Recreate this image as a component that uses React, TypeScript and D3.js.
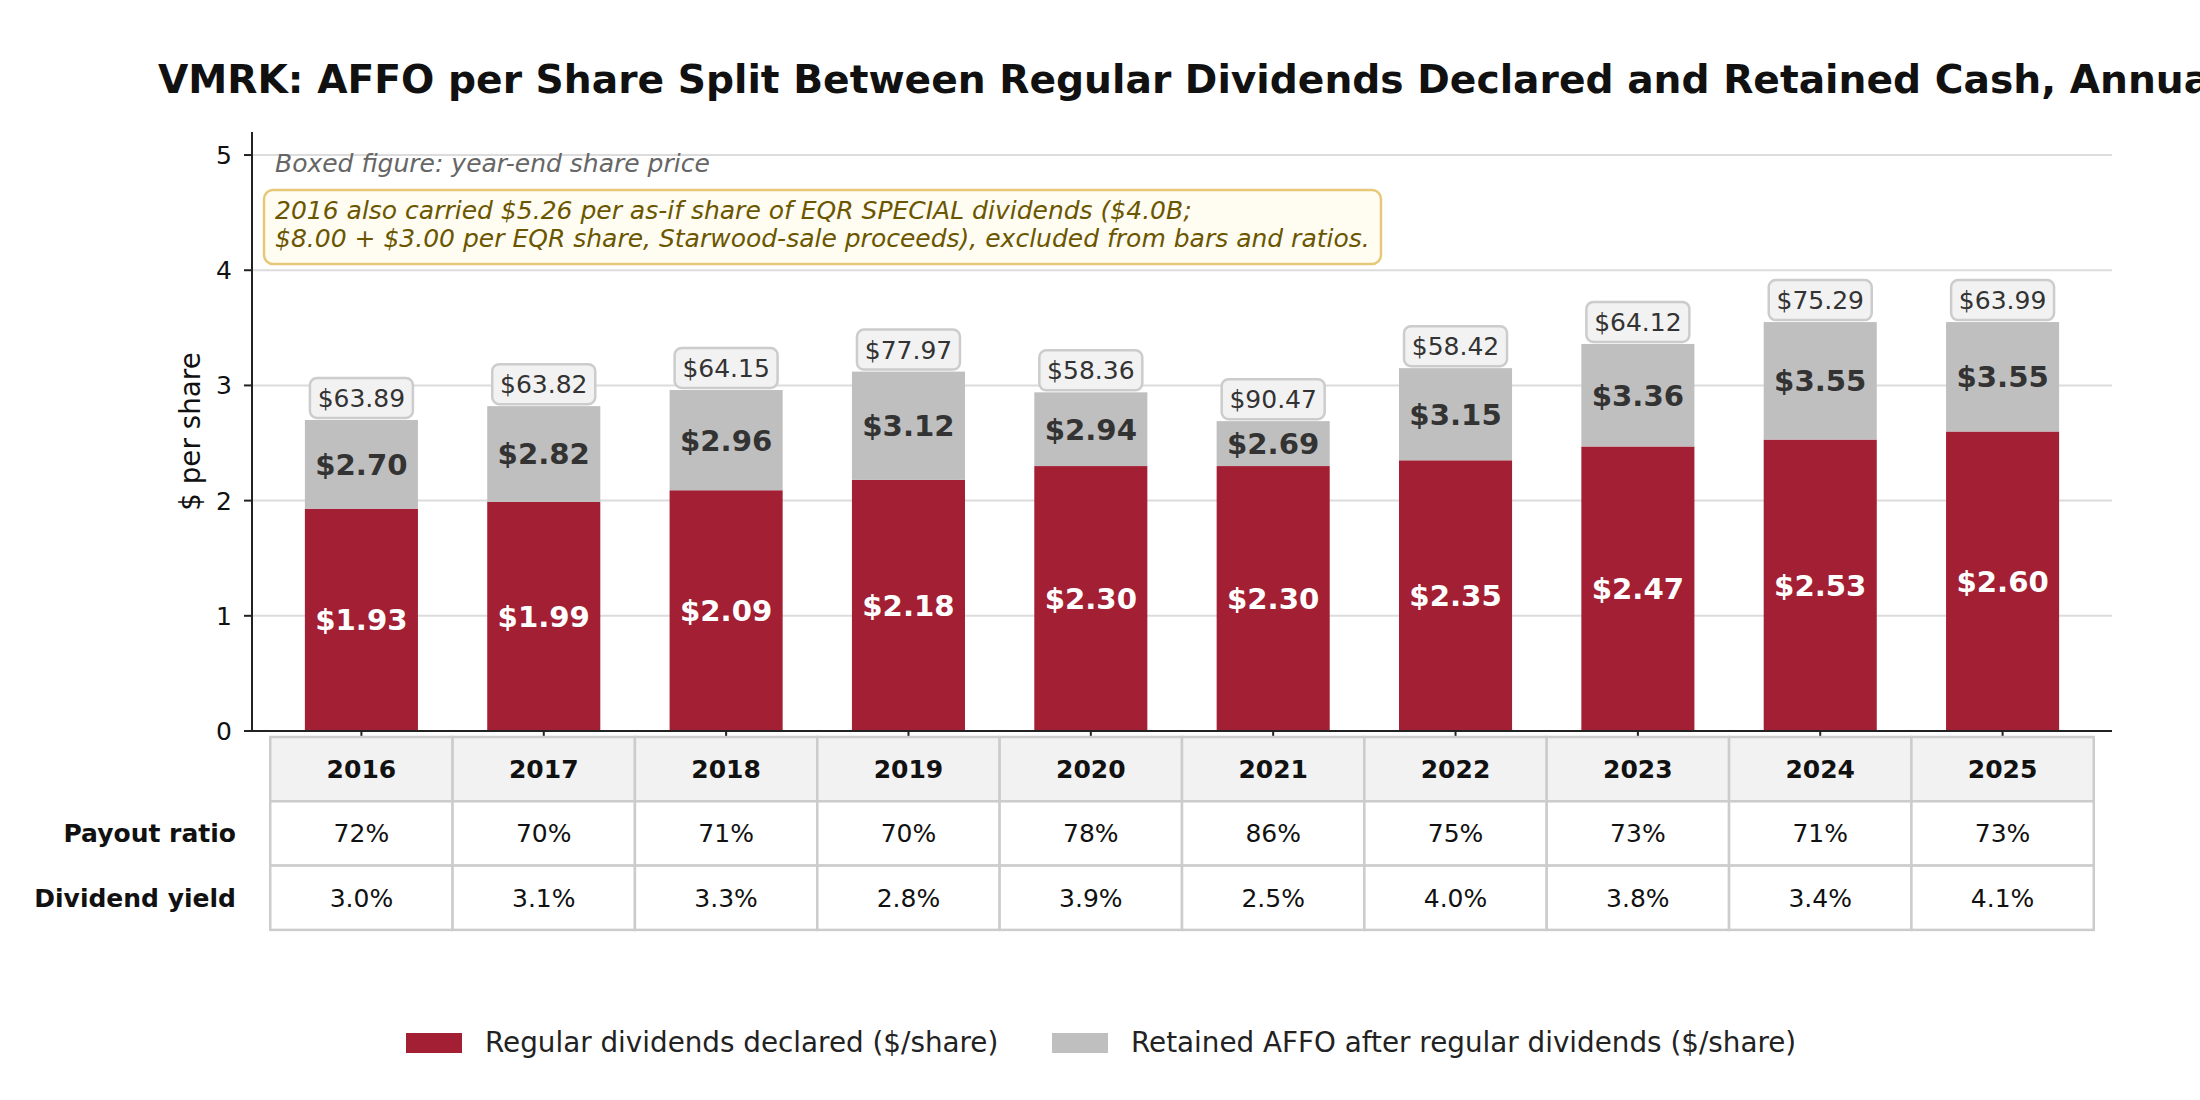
import * as d3 from 'd3'

const years = ['2016', '2017', '2018', '2019', '2020', '2021', '2022', '2023', '2024', '2025']
const dividends = [1.93, 1.99, 2.09, 2.18, 2.30, 2.30, 2.35, 2.47, 2.53, 2.60]
const affo = [2.70, 2.82, 2.96, 3.12, 2.94, 2.69, 3.15, 3.36, 3.55, 3.55]
const prices = [63.89, 63.82, 64.15, 77.97, 58.36, 90.47, 58.42, 64.12, 75.29, 63.99]
const payoutRatio = ['72%', '70%', '71%', '70%', '78%', '86%', '75%', '73%', '71%', '73%']
const dividendYield = ['3.0%', '3.1%', '3.3%', '2.8%', '3.9%', '2.5%', '4.0%', '3.8%', '3.4%', '4.1%']
const yTicks = [0, 1, 2, 3, 4, 5]

const W = 2200
const H = 1100
const FONT = 'DejaVu Sans, sans-serif'
const RED = '#a31f34'
const GRAY = '#bfbfbf'

export default function App() {
  const plot = { left: 252, right: 2112, top: 132, bottom: 731 }

  const x = d3.scaleLinear().domain([-0.6, years.length - 0.4]).range([plot.left, plot.right])
  const y = d3.scaleLinear().domain([0, 5.2]).range([plot.bottom, plot.top])
  const bw = (x(1) - x(0)) * 0.62

  // tabela embaixo do grafico
  const tableTop = 737
  const rowH = 64.3
  const colW = x(1) - x(0)
  const rows = [
    { label: '', values: years, header: true },
    { label: 'Payout ratio', values: payoutRatio, header: false },
    { label: 'Dividend yield', values: dividendYield, header: false },
  ]

  const legendItems = [
    { color: RED, label: 'Regular dividends declared ($/share)', x: 406 },
    { color: GRAY, label: 'Retained AFFO after regular dividends ($/share)', x: 1052 },
  ]

  return (
    <svg width={W} height={H} style={{ position: 'absolute', left: 0, top: 0, background: '#fff' }} fontFamily={FONT}>
      <rect width={W} height={H} fill="#fff" />

      <text x={158} y={93} fontSize={39.2} fontWeight="bold" fill="#111">
        VMRK: AFFO per Share Split Between Regular Dividends Declared and Retained Cash, Annual
      </text>

      {/* grid */}
      {yTicks.filter(t => t > 0).map(t => (
        <line key={t} x1={plot.left} x2={plot.right} y1={y(t)} y2={y(t)} stroke="#dcdcdc" strokeWidth={2} />
      ))}

      {/* barras empilhadas */}
      {years.map((yr, i) => (
        <g key={yr}>
          <rect x={x(i) - bw / 2} y={y(dividends[i])} width={bw} height={y(0) - y(dividends[i])} fill={RED} />
          <rect x={x(i) - bw / 2} y={y(affo[i])} width={bw} height={y(dividends[i]) - y(affo[i])} fill={GRAY} />
          <text x={x(i)} y={y(dividends[i] / 2)} dy="0.36em" textAnchor="middle" fontSize={29.2} fontWeight="bold" fill="#fff">
            ${dividends[i].toFixed(2)}
          </text>
          <text x={x(i)} y={y((dividends[i] + affo[i]) / 2)} dy="0.36em" textAnchor="middle" fontSize={29.2} fontWeight="bold" fill="#333">
            ${affo[i].toFixed(2)}
          </text>
          <rect x={x(i) - 51.5} y={y(affo[i]) - 42} width={103} height={40} rx={7} fill="#f2f2f2" stroke="#cccccc" strokeWidth={2.5} />
          <text x={x(i)} y={y(affo[i]) - 22} dy="0.36em" textAnchor="middle" fontSize={25} fill="#333">
            ${prices[i].toFixed(2)}
          </text>
        </g>
      ))}

      {/* eixos */}
      <line x1={plot.left} x2={plot.left} y1={plot.top} y2={plot.bottom} stroke="#222" strokeWidth={2} />
      <line x1={plot.left} x2={plot.right} y1={plot.bottom} y2={plot.bottom} stroke="#222" strokeWidth={2} />
      {yTicks.map(t => (
        <g key={t}>
          <line x1={plot.left - 8} x2={plot.left} y1={y(t)} y2={y(t)} stroke="#222" strokeWidth={2} />
          <text x={plot.left - 20} y={y(t)} dy="0.36em" textAnchor="end" fontSize={25} fill="#111">{t}</text>
        </g>
      ))}
      {years.map((yr, i) => (
        <line key={yr} x1={x(i)} x2={x(i)} y1={plot.bottom} y2={plot.bottom + 8} stroke="#222" strokeWidth={2} />
      ))}
      <text transform={`translate(200,${(plot.top + plot.bottom) / 2}) rotate(-90)`} textAnchor="middle" fontSize={27.8} fill="#111">
        $ per share
      </text>

      {/* notas */}
      <text x={275} y={172} fontSize={25} fontStyle="italic" fill="#666">Boxed figure: year-end share price</text>
      <rect x={264} y={190} width={1117} height={74} rx={9} fill="#fffcf2" stroke="#e6c878" strokeWidth={2.5} />
      <text x={275} y={219} fontSize={25} fontStyle="italic" fill="#6b5600">
        2016 also carried $5.26 per as-if share of EQR SPECIAL dividends ($4.0B;
      </text>
      <text x={275} y={247} fontSize={25} fontStyle="italic" fill="#6b5600">
        $8.00 + $3.00 per EQR share, Starwood-sale proceeds), excluded from bars and ratios.
      </text>

      {/* tabela */}
      {rows.map((row, r) => (
        <g key={r}>
          {row.label && (
            <text x={236} y={tableTop + rowH * (r + 0.5)} dy="0.36em" textAnchor="end" fontSize={25} fontWeight="bold" fill="#111">
              {row.label}
            </text>
          )}
          {row.values.map((v, i) => (
            <g key={i}>
              <rect x={x(i) - colW / 2} y={tableTop + rowH * r} width={colW} height={rowH}
                fill={row.header ? '#f2f2f2' : '#fff'} stroke="#cccccc" strokeWidth={2.5} />
              <text x={x(i)} y={tableTop + rowH * (r + 0.5)} dy="0.36em" textAnchor="middle" fontSize={25}
                fontWeight={row.header ? 'bold' : 'normal'} fill="#111">
                {v}
              </text>
            </g>
          ))}
        </g>
      ))}

      {/* legenda */}
      {legendItems.map(item => (
        <g key={item.label}>
          <rect x={item.x} y={1033} width={56} height={20} fill={item.color} />
          <text x={item.x + 79} y={1052} fontSize={27.8} fill="#222">{item.label}</text>
        </g>
      ))}
    </svg>
  )
}
